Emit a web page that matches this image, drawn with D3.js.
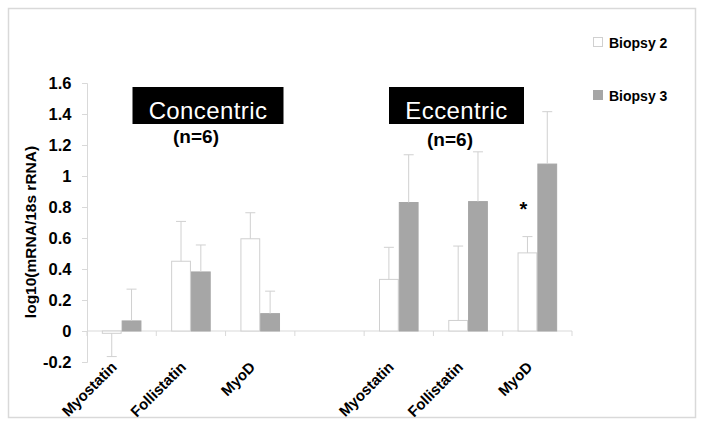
<!DOCTYPE html>
<html><head><meta charset="utf-8">
<script src="https://cdn.jsdelivr.net/npm/d3@7"></script>
<style>
html,body{margin:0;padding:0;background:#fff;}
svg{display:block;}
text{font-family:"Liberation Sans",Arial,sans-serif;}
</style></head>
<body><svg id="chart" width="704" height="428"></svg>
<script>
const categories = ["Myostatin","Follistatin","MyoD","","Myostatin","Follistatin","MyoD"];
const seriesNames = ["Biopsy 2","Biopsy 3"];
const biopsy2 = [-0.015, 0.45, 0.595, null, 0.333, 0.068, 0.504];
const biopsy2Err = [0.15, 0.257, 0.168, null, 0.207, 0.48, 0.105];
const biopsy3 = [0.065, 0.381, 0.112, null, 0.829, 0.835, 1.077];
const biopsy3Err = [0.205, 0.174, 0.145, null, 0.308, 0.321, 0.338];
const yTicks = [-0.2, 0, 0.2, 0.4, 0.6, 0.8, 1, 1.2, 1.4, 1.6];
const yTickLabels = ["-0.2","0","0.2","0.4","0.6","0.8","1","1.2","1.4","1.6"];
const groupLabels = ["Concentric","Eccentric"];
const groupN = ["(n=6)","(n=6)"];
const yTitle = "log10(mRNA/18s rRNA)";

const svg = d3.select("#chart");
const colors = ["#ffffff","#a6a6a6"];
const strokes = ["#d0d0d0","#a6a6a6"];
const axisCol = "#d9d9d9";

// outer border
svg.append("rect").attr("x",8.5).attr("y",8.5).attr("width",687).attr("height",409)
  .attr("fill","none").attr("stroke",axisCol).attr("stroke-width",1.5);

const x = d3.scaleBand().domain(d3.range(categories.length)).range([87,572]).paddingInner(0).paddingOuter(0);
const xs = d3.scaleBand().domain([0,1]).range([0,x.bandwidth()]).paddingInner(0).paddingOuter(0.75);
const y = d3.scaleLinear().domain([-0.2,1.6]).range([362,83]);

// y axis
const yAxis = d3.axisLeft(y).tickValues(yTicks).tickSize(5).tickFormat((d,i)=>yTickLabels[i]);
const gy = svg.append("g").attr("transform","translate(87,0)").call(yAxis);
gy.select(".domain").attr("stroke",axisCol);
gy.selectAll(".tick line").attr("stroke",axisCol);
gy.selectAll(".tick text").attr("x",-15.5).attr("fill","#000")
  .style("font-size","16.5px").style("font-weight","bold").style("font-family","'Liberation Sans',Arial,sans-serif");

// x axis line at 0
svg.append("line").attr("x1",87).attr("x2",572).attr("y1",y(0)).attr("y2",y(0)).attr("stroke",axisCol);
const bounds = d3.range(categories.length+1).map(i => i < categories.length ? x(i) : x(categories.length-1)+x.bandwidth());
svg.selectAll(".xt").data(bounds).enter().append("line")
  .attr("x1",d=>d).attr("x2",d=>d).attr("y1",y(0)).attr("y2",y(0)+5).attr("stroke",axisCol);

// bars
const series = [[biopsy2,biopsy2Err],[biopsy3,biopsy3Err]];
series.forEach((s,si)=>{
  const [vals, errs] = s;
  const data = vals.map((v,i)=>({i,v,e:errs[i]})).filter(d=>d.v!==null);
  svg.selectAll(".bar"+si).data(data).enter().append("rect")
    .attr("x",d=>x(d.i)+xs(si)+0.5)
    .attr("width",xs.bandwidth()-1)
    .attr("y",d=>Math.min(y(d.v),y(0)))
    .attr("height",d=>Math.abs(y(d.v)-y(0)))
    .attr("fill",colors[si]).attr("stroke",strokes[si]).attr("stroke-width",1);
  const eg = svg.selectAll(".err"+si).data(data).enter().append("g");
  eg.append("line")
    .attr("x1",d=>x(d.i)+xs(si)+xs.bandwidth()/2).attr("x2",d=>x(d.i)+xs(si)+xs.bandwidth()/2)
    .attr("y1",d=>y(d.v)).attr("y2",d=>y(d.v + (d.v<0?-d.e:d.e)))
    .attr("stroke","#d0d0d0").attr("stroke-width",1);
  eg.append("line")
    .attr("x1",d=>x(d.i)+xs(si)+xs.bandwidth()/2-5).attr("x2",d=>x(d.i)+xs(si)+xs.bandwidth()/2+5)
    .attr("y1",d=>y(d.v + (d.v<0?-d.e:d.e))).attr("y2",d=>y(d.v + (d.v<0?-d.e:d.e)))
    .attr("stroke","#d0d0d0").attr("stroke-width",1);
});

// x labels
svg.selectAll(".xl").data(categories.map((c,i)=>({c,i})).filter(d=>d.c!=="")).enter().append("text")
  .attr("transform",d=>`translate(${x(d.i)+x.bandwidth()/2-4},${y(0)+37}) rotate(-45)`)
  .attr("text-anchor","end").attr("font-size",15).attr("font-weight","bold").attr("fill","#000")
  .text(d=>d.c);

// y title
svg.append("text").attr("transform","translate(36,232) rotate(-90)")
  .attr("text-anchor","middle").attr("font-size",15.5).attr("font-weight","bold").text(yTitle);

// group labels
const boxes = [{cx:208, w:151, nx:196, ny:143},{cx:456.5, w:135, nx:450, ny:146}];
groupLabels.forEach((g,i)=>{
  const b = boxes[i];
  svg.append("rect").attr("x",b.cx-b.w/2).attr("y",87).attr("width",b.w).attr("height",37).attr("fill","#000");
  svg.append("text").attr("x",b.cx).attr("y",119).attr("text-anchor","middle")
    .attr("font-size",24).attr("fill","#fff").attr("letter-spacing",0.4).text(g);
  svg.append("text").attr("x",b.nx).attr("y",b.ny).attr("text-anchor","middle")
    .attr("font-size",19).attr("font-weight","bold").text(groupN[i]);
});

// significance
svg.append("text").attr("x",x(6)+xs(0)+xs.bandwidth()/2-4).attr("y",y(0.8)+9).attr("text-anchor","middle")
  .attr("font-size",20).attr("font-weight","bold").text("*");

// legend
const leg = svg.append("g");
seriesNames.forEach((n,i)=>{
  const yy = 37 + i*53;
  leg.append("rect").attr("x",593.5).attr("y",yy+0.5).attr("width",9).attr("height",9)
    .attr("fill",colors[i]).attr("stroke",i===0?"#d0d0d0":"#a6a6a6");
  leg.append("text").attr("x",609).attr("y",yy+11).attr("font-size",14).attr("font-weight","bold").text(n);
});
</script></body></html>
